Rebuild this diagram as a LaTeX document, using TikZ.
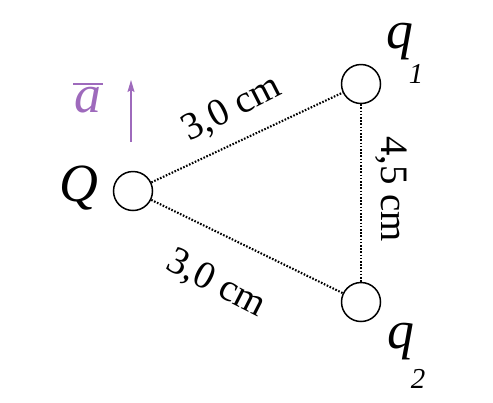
\documentclass[tikz,border=0pt]{standalone}
\usepackage{fontspec}
\setmainfont{Liberation Serif}
\usetikzlibrary{arrows.meta, calc, positioning}
\tikzset{>=Latex}
\definecolor{accpurple}{RGB}{158,106,188}
\tikzset{charge/.style = {draw, circle, line width=1.5bp, minimum size=39bp, inner sep=0pt}}
\tikzset{dist/.style = {draw, dash pattern=on 1.6bp off 1.6bp, line width=2.1bp}}
\tikzset{chargename/.style = {font=\fontsize{54}{58}\selectfont\itshape, inner sep=0pt}}
\tikzset{subname/.style = {font=\fontsize{29}{32}\selectfont\itshape, inner sep=0pt}}
\tikzset{distlabel/.style = {font=\fontsize{39}{42}\selectfont, inner sep=0pt}}

\begin{document}
\begin{tikzpicture}[x=1bp, y=-1bp]
  \useasboundingbox (0,0) rectangle (493,402);
  \path (133,191) node[charge] (Q) {}
        (361,84) node[charge] (q1) {}
        (361,302) node[charge] (q2) {};
  \node[chargename] (Qlab) at (79,188) {Q};
  \node[chargename] (q1lab) at (400,42) {q};
  \node[subname] (q1sub) at (416,74) {1};
  \node[chargename] (q2lab) at (401,342) {q};
  \node[subname] (q2sub) at (418,379) {2};

  \foreach \i/\o in {Q/q1, Q/q2, q1/q2}
  {
    \draw[dist] (\i) -- (\o);
  }
  \node[distlabel, rotate=27] (dQq1) at (232,109) {3,0 cm};
  \node[distlabel, rotate=-27] (dQq2) at (216,284) {3,0 cm};
  \node[distlabel, rotate=-90] (dq1q2) at (391,189) {4,5 cm};

  % acceleration of Q
  \node[chargename, text=accpurple] (acc) at (88,100) {a};
  \coordinate (barL) at (73,84);
  \coordinate (barR) at (103,84);
  \draw[accpurple, line width=1.5bp] (barL) -- (barR);
  \coordinate (arrB) at (131,142);
  \coordinate (arrT) at (131,80);
  \draw[->, accpurple, line width=1.5bp, >={Stealth[length=12bp, width=7bp, inset=2bp]}] (arrB) -- (arrT);
\end{tikzpicture}
\end{document}
